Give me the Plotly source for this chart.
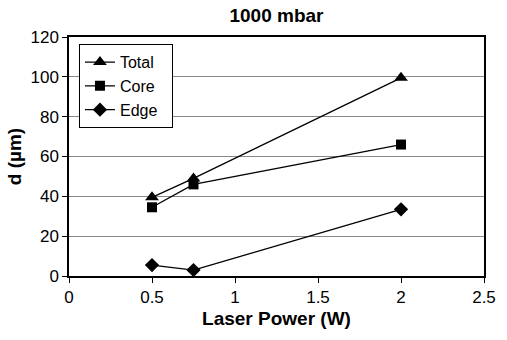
import plotly.graph_objects as go

power = [0.5, 0.75, 2]
total = [39.5, 49, 99.5]
core = [34.5, 46, 66]
edge = [5.5, 3, 33.5]

FONT = "Liberation Sans, Arial, sans-serif"

fig = go.Figure()
for name, ys, sym, sz in [("Total", total, "triangle-up", 12), ("Core", core, "square", 10), ("Edge", edge, "diamond", 11)]:
    fig.add_trace(go.Scatter(x=power, y=ys, name=name + "  ", mode="lines+markers",
                             line=dict(color="black", width=1.3),
                             marker=dict(symbol=sym, size=sz, color="black")))

fig.update_layout(
    width=507, height=340,
    margin=dict(l=69, r=23, t=37, b=64),
    paper_bgcolor="white", plot_bgcolor="white",
    font=dict(family=FONT, size=17, color="black"),
    title=dict(text="<b>1000 mbar</b>", x=0.5, xanchor="center", xref="paper", y=0.955, yanchor="middle",
               font=dict(size=19, family=FONT)),
    showlegend=True,
    legend=dict(x=0.024, y=0.97, xanchor="left", yanchor="top", bordercolor="black", borderwidth=1,
                bgcolor="white", font=dict(size=16, family=FONT), tracegroupgap=0, itemwidth=30),
    xaxis=dict(range=[0, 2.5], dtick=0.5, showgrid=False, showline=True, linecolor="black", linewidth=1.5,
               mirror=True, ticks="outside", ticklen=5, tickcolor="black", zeroline=False,
               title=dict(text="<b>Laser Power (W)</b>", font=dict(size=19, family=FONT), standoff=6),
               tickfont=dict(size=17)),
    yaxis=dict(range=[0, 120], dtick=20, showgrid=True, gridcolor="#888888", gridwidth=1, showline=True,
               linecolor="black", linewidth=1.5, mirror=True, ticks="outside", ticklen=5, tickcolor="black",
               zeroline=False,
               title=dict(text="<b>d (µm)</b>", font=dict(size=19, family=FONT), standoff=4),
               tickfont=dict(size=17)),
)

fig.write_html("out.html")
